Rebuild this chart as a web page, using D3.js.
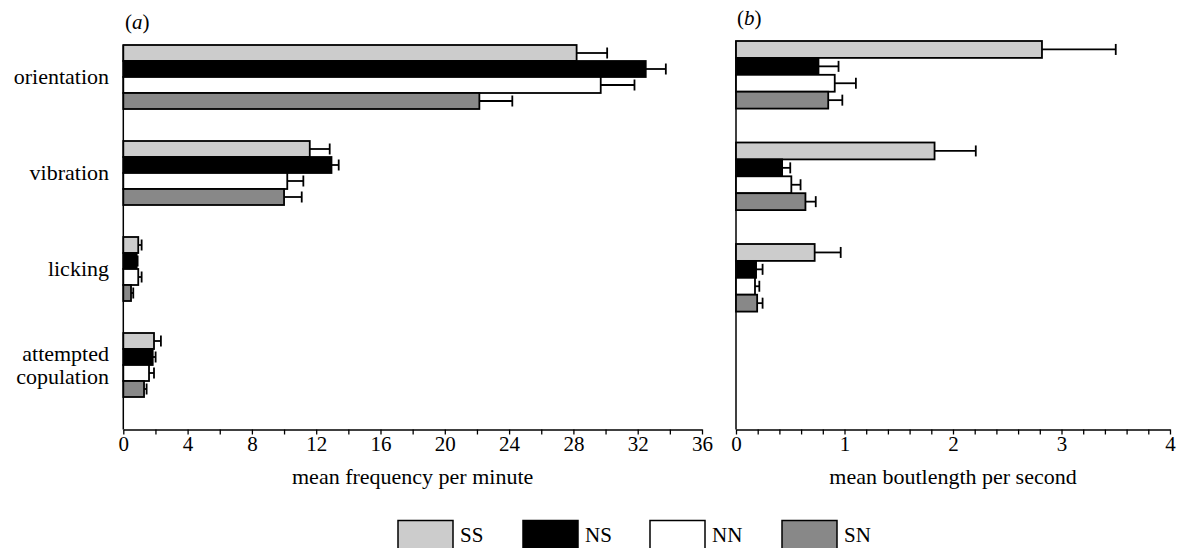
<!DOCTYPE html>
<html>
<head>
<meta charset="utf-8">
<script src="https://cdn.jsdelivr.net/npm/d3@7"></script>
<style>
  html, body { margin: 0; padding: 0; background: #fff; overflow: hidden; }
  svg { display: block; font-family: "Liberation Serif", "Times New Roman", serif; }
</style>
</head>
<body>
<svg id="chart" width="1178" height="548"></svg>
<script>
// ---- data ----
const categories = ["orientation", "vibration", "licking", "attempted copulation"];
const seriesNames = ["SS", "NS", "NN", "SN"];
const seriesColors = ["#cccccc", "#000000", "#ffffff", "#888888"];

// panel (a): mean frequency per minute
const freqSS = [28.2, 11.6, 0.93, 1.91];
const freqNS = [32.5, 12.95, 0.83, 1.83];
const freqNN = [29.7, 10.2, 0.93, 1.6];
const freqSN = [22.15, 10.0, 0.48, 1.29];
const freqErrSS = [1.9, 1.24, 0.21, 0.43];
const freqErrNS = [1.25, 0.45, 0.06, 0.18];
const freqErrNN = [2.1, 1.0, 0.21, 0.31];
const freqErrSN = [2.05, 1.1, 0.14, 0.16];

// panel (b): mean boutlength per second (no attempted copulation)
const boutCategories = ["orientation", "vibration", "licking"];
const boutSS = [2.82, 1.83, 0.725];
const boutNS = [0.76, 0.425, 0.185];
const boutNN = [0.91, 0.51, 0.175];
const boutSN = [0.85, 0.64, 0.195];
const boutErrSS = [0.68, 0.38, 0.24];
const boutErrNS = [0.185, 0.075, 0.06];
const boutErrNN = [0.195, 0.085, 0.04];
const boutErrSN = [0.13, 0.095, 0.05];

const freqTicks = d3.range(0, 37, 2);
const freqTickLabels = [0, 4, 8, 12, 16, 20, 24, 28, 32, 36];
const boutTicks = d3.range(0, 21).map(i => i / 5);
const boutTickLabels = [0, 1, 2, 3, 4];

// ---- build tables ----
function rows(cats, vals, errs) {
  const out = [];
  cats.forEach((c, ci) => {
    seriesNames.forEach((s, si) => {
      out.push({ cat: c, series: s, value: vals[si][ci], err: errs[si][ci] });
    });
  });
  return out;
}
const freqRows = rows(categories, [freqSS, freqNS, freqNN, freqSN], [freqErrSS, freqErrNS, freqErrNN, freqErrSN]);
const boutRows = rows(boutCategories, [boutSS, boutNS, boutNN, boutSN], [boutErrSS, boutErrNS, boutErrNN, boutErrSN]);

const svg = d3.select("#chart");
const color = d3.scaleOrdinal().domain(seriesNames).range(seriesColors);
const axisY = 429.5;
const FONT = 21;

function panel(opts) {
  const { data, cats, domain, x0, x1, top, step, groupH, ticks, tickLabels, title, letter, letterX, letterY } = opts;
  const x = d3.scaleLinear().domain(domain).range([x0, x1]);
  const y = d3.scaleBand().domain(categories).range([top, top + step * categories.length]).paddingInner(0).paddingOuter(0);
  const yi = d3.scaleBand().domain(seriesNames).range([0, groupH]);
  const g = svg.append("g");

  // vertical axis line
  g.append("line").attr("x1", x0).attr("x2", x0).attr("y1", top).attr("y2", axisY)
    .attr("stroke", "#000").attr("stroke-width", 1.5);

  // bottom axis
  const ax = g.append("g").attr("transform", `translate(0,${axisY})`)
    .call(d3.axisBottom(x).tickValues(ticks).tickSize(5).tickSizeOuter(0)
      .tickFormat(d => tickLabels.some(t => Math.abs(t - d) < 1e-9) ? d3.format("d")(d) : ""));
  ax.select(".domain").attr("stroke", "#000").attr("stroke-width", 1.5);
  ax.selectAll(".tick line").attr("stroke", "#000").attr("stroke-width", 1.3);
  ax.selectAll(".tick text").attr("dy", null).attr("y", 21)
    .attr("font-size", FONT).attr("font-family", "Liberation Serif").attr("fill", "#000");

  // axis title
  g.append("text").attr("x", (x0 + x1) / 2).attr("y", axisY + 54)
    .attr("text-anchor", "middle").attr("font-size", 22).text(title);

  // panel letter
  g.append("text").attr("x", letterX).attr("y", letterY).attr("font-size", 21)
    .html(`(<tspan font-style="italic">${letter}</tspan>)`);

  // bars
  g.selectAll("rect.bar").data(data).join("rect").attr("class", "bar")
    .attr("x", x(0))
    .attr("y", d => y(d.cat) + yi(d.series))
    .attr("width", d => x(d.value) - x(0))
    .attr("height", yi.bandwidth())
    .attr("fill", d => color(d.series))
    .attr("stroke", "#000").attr("stroke-width", 1.8);

  // error bars
  const eb = g.selectAll("g.err").data(data).join("g").attr("class", "err");
  const cy = d => y(d.cat) + yi(d.series) + yi.bandwidth() / 2;
  eb.append("line")
    .attr("x1", d => x(d.value)).attr("x2", d => x(d.value + d.err))
    .attr("y1", cy).attr("y2", cy)
    .attr("stroke", "#000").attr("stroke-width", 1.8);
  eb.append("line")
    .attr("x1", d => x(d.value + d.err)).attr("x2", d => x(d.value + d.err))
    .attr("y1", d => cy(d) - 5.5).attr("y2", d => cy(d) + 5.5)
    .attr("stroke", "#000").attr("stroke-width", 1.8);

  return { x, y, groupH };
}

const left = panel({
  data: freqRows, cats: categories, domain: [0, 36], x0: 123.3, x1: 702,
  top: 45, step: 96, groupH: 64, ticks: freqTicks, tickLabels: freqTickLabels,
  title: "mean frequency per minute", letter: "a", letterX: 125, letterY: 29
});

panel({
  data: boutRows, cats: boutCategories, domain: [0, 4], x0: 736, x1: 1170,
  top: 41, step: 101.5, groupH: 67.6, ticks: boutTicks, tickLabels: boutTickLabels,
  title: "mean boutlength per second", letter: "b", letterX: 737, letterY: 25
});

// category labels
const catLabels = svg.append("g").attr("font-size", 22).attr("text-anchor", "end");
categories.forEach(c => {
  const cyy = left.y(c) + left.groupH / 2;
  const words = c === "attempted copulation" ? ["attempted", "copulation"] : [c];
  const t = catLabels.append("text").attr("x", 109);
  words.forEach((w, i) => {
    const lineY = cyy + 7 + (i - (words.length - 1) / 2) * 23;
    t.append("tspan").attr("x", 109).attr("y", lineY).text(w);
  });
});

// legend
const legendX = [398, 523, 650, 782];
const legend = svg.append("g");
seriesNames.forEach((s, i) => {
  legend.append("rect").attr("x", legendX[i]).attr("y", 520.5).attr("width", 55).attr("height", 32)
    .attr("fill", color(s)).attr("stroke", "#000").attr("stroke-width", 1.5);
  legend.append("text").attr("x", legendX[i] + 62).attr("y", 542).attr("font-size", 21).text(s);
});
</script>
</body>
</html>
